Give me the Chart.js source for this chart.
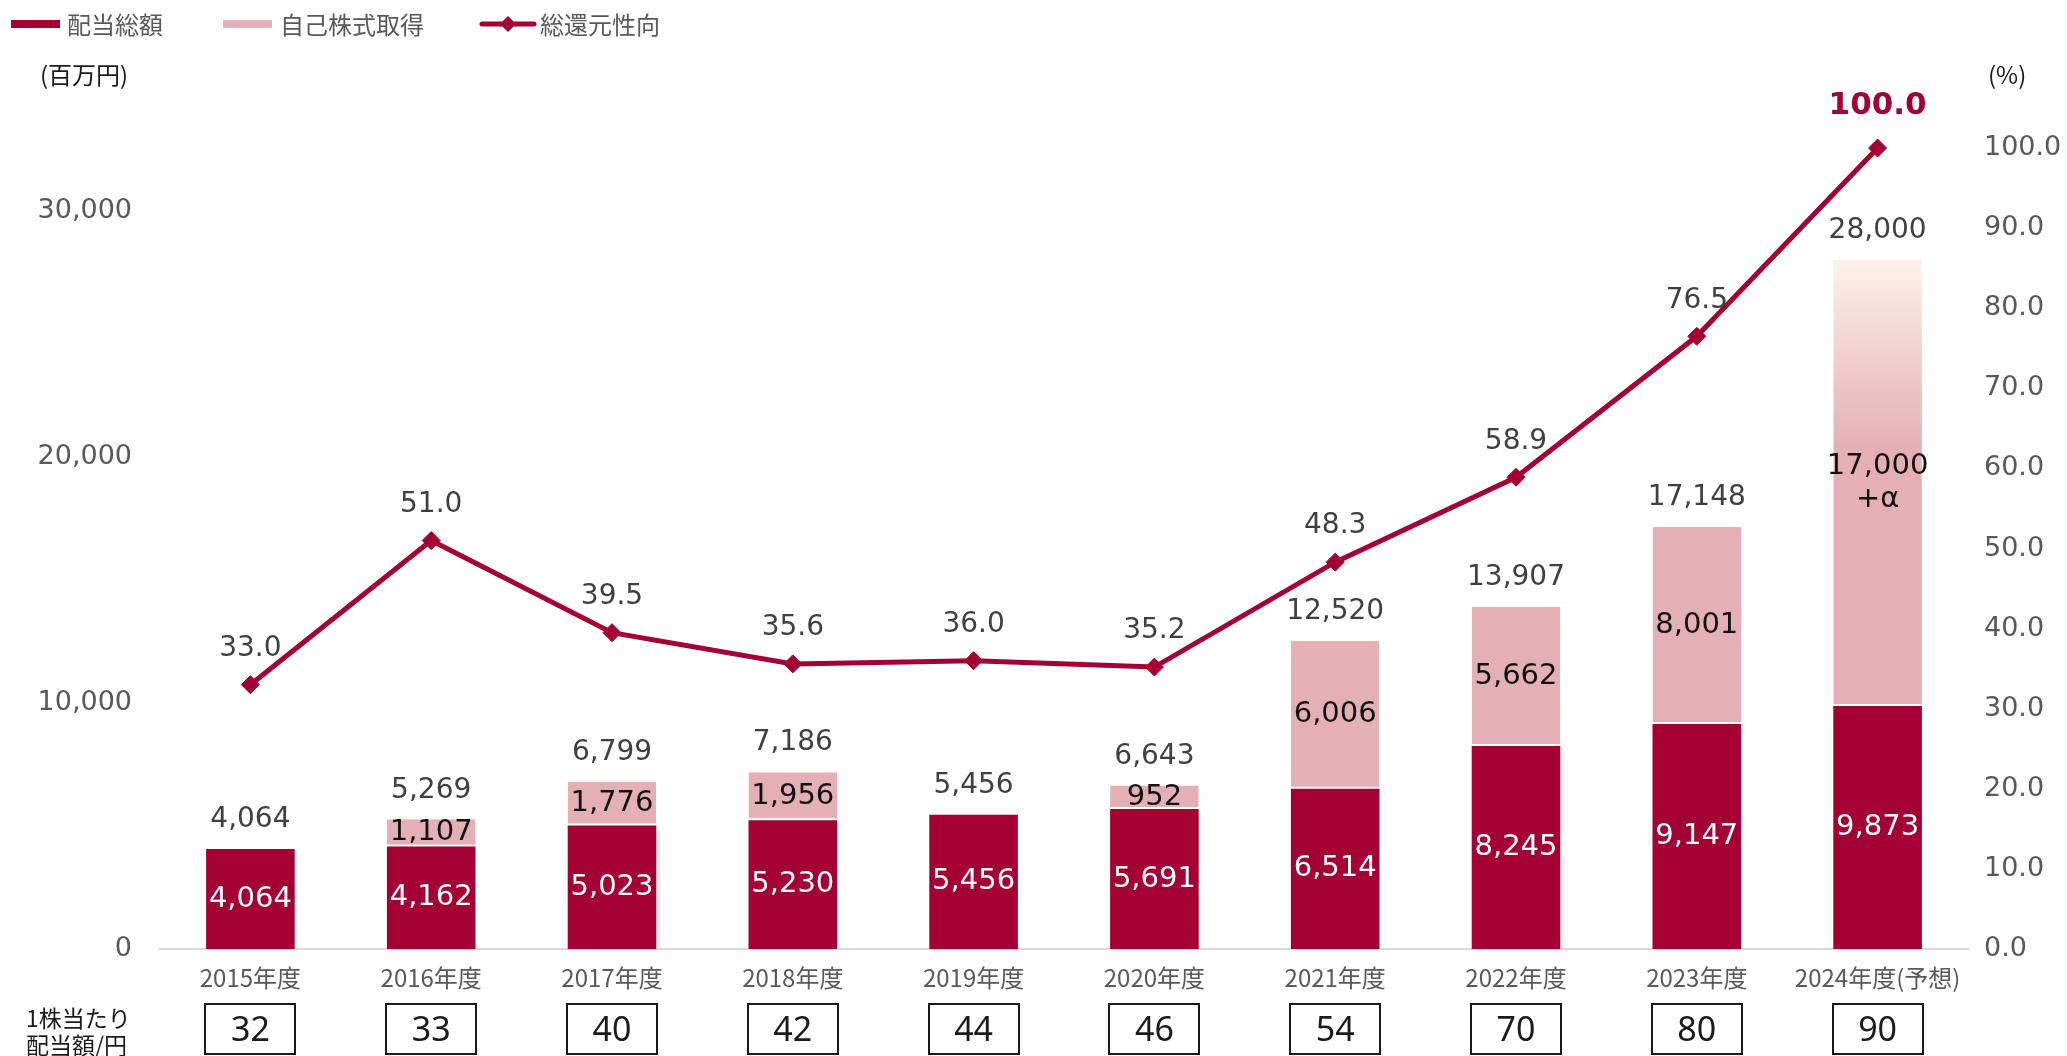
<!DOCTYPE html>
<html lang="ja">
<head>
<meta charset="utf-8">
<title>配当総額・自己株式取得・総還元性向</title>
<script src="https://cdn.jsdelivr.net/npm/chart.js@4.4.1/dist/chart.umd.min.js"></script>
<style>
  html, body { margin: 0; padding: 0; background: #fff; }
  #wrap { width: 2067px; height: 1056px; }
</style>
</head>
<body>
<div id="wrap"><canvas id="payout" width="2067" height="1056"></canvas></div>
<script>
// 年度
const years = ['2015年度', '2016年度', '2017年度', '2018年度', '2019年度',
               '2020年度', '2021年度', '2022年度', '2023年度', '2024年度(予想)'];
// 配当総額（百万円）
const dividends = [4064, 4162, 5023, 5230, 5456, 5691, 6514, 8245, 9147, 9873];
// 自己株式取得（百万円） 2024年度は合計28,000になるように
const buybacks = [0, 1107, 1776, 1956, 0, 952, 6006, 5662, 8001, 18127];
// 自己株式取得のラベル差し替え
const buybackNotes = [null, null, null, null, null, null, null, null, null, ['17,000', '+α']];
// 総還元性向（%）
const payoutRatio = [33.0, 51.0, 39.5, 35.6, 36.0, 35.2, 48.3, 58.9, 76.5, 100.0];
// 1株当たり配当額（円）
const perShare = [32, 33, 40, 42, 44, 46, 54, 70, 80, 90];

const leftTicks = [0, 10000, 20000, 30000];
const rightTicks = [0, 10, 20, 30, 40, 50, 60, 70, 80, 90, 100];

const RED = '#a50034';
const PINK = '#e4b0b6';
const NUM_FONT = '"DejaVu Sans", sans-serif';
const JP_FONT = '"Noto Sans CJK JP", "Noto Sans", sans-serif';

const fmt = v => v.toLocaleString('en-US');

// 2024年度の自己株式取得は上部がグラデーション
function buybackColor(ctx) {
    const i = ctx.dataIndex;
    if (i !== buybacks.length - 1) return PINK;
    const chart = ctx.chart;
    if (!chart.chartArea) return PINK;
    const y = chart.scales.y;
    const top = y.getPixelForValue(dividends[i] + buybacks[i]);
    const bottom = y.getPixelForValue(dividends[i]);
    const g = chart.ctx.createLinearGradient(0, top, 0, bottom);
    g.addColorStop(0, '#fdf2ea');
    g.addColorStop(0.42, PINK);
    g.addColorStop(1, PINK);
    return g;
}

const valueLabels = {
    id: 'valueLabels',
    afterDatasetsDraw(chart) {
        const ctx = chart.ctx;
        const divMeta = chart.getDatasetMeta(0);
        const buyMeta = chart.getDatasetMeta(1);
        const lineMeta = chart.getDatasetMeta(2);
        ctx.save();
        ctx.textAlign = 'center';
        ctx.textBaseline = 'middle';

        divMeta.data.forEach((bar, i) => {
            ctx.font = '29px ' + NUM_FONT;
            ctx.fillStyle = '#ffffff';
            ctx.fillText(fmt(dividends[i]), bar.x, (bar.y + bar.base) / 2);

            const pink = buyMeta.data[i];
            if (buybacks[i] > 0) {
                ctx.fillStyle = '#111111';
                const mid = (pink.y + pink.base) / 2;
                const lines = buybackNotes[i] || [fmt(buybacks[i])];
                lines.forEach((t, k) => {
                    ctx.fillText(t, pink.x, mid + (k - (lines.length - 1) / 2) * 33);
                });
            }

            const top = buybacks[i] > 0 ? pink.y : bar.y;
            ctx.font = '28px ' + NUM_FONT;
            ctx.fillStyle = '#404040';
            ctx.fillText(fmt(dividends[i] + buybacks[i]), bar.x, top - 29);
        });

        lineMeta.data.forEach((pt, i) => {
            const last = i === payoutRatio.length - 1;
            if (last) {
                ctx.font = 'bold 31px ' + NUM_FONT;
                ctx.fillStyle = RED;
                ctx.fillText(payoutRatio[i].toFixed(1), pt.x, pt.y - 42);
            } else {
                ctx.font = '28px ' + NUM_FONT;
                ctx.fillStyle = '#404040';
                ctx.fillText(payoutRatio[i].toFixed(1), pt.x, pt.y - 36);
            }
        });
        ctx.restore();
    },
    afterDraw(chart) {
        const ctx = chart.ctx;
        ctx.save();

        // 凡例
        ctx.textBaseline = 'middle';
        ctx.textAlign = 'left';
        ctx.font = '24px ' + JP_FONT;
        ctx.fillStyle = RED;
        ctx.fillRect(11, 20, 49, 8);
        ctx.fillStyle = PINK;
        ctx.fillRect(223, 20, 49, 8);
        ctx.strokeStyle = RED;
        ctx.lineWidth = 5;
        ctx.lineCap = 'round';
        ctx.beginPath();
        ctx.moveTo(482, 24);
        ctx.lineTo(534, 24);
        ctx.stroke();
        ctx.fillStyle = RED;
        ctx.beginPath();
        ctx.moveTo(508, 16); ctx.lineTo(516, 24); ctx.lineTo(508, 32); ctx.lineTo(500, 24);
        ctx.closePath();
        ctx.fill();
        ctx.fillStyle = '#595959';
        ctx.fillText('配当総額', 67, 25);
        ctx.fillText('自己株式取得', 280, 25);
        ctx.fillText('総還元性向', 540, 25);

        // 単位
        ctx.fillStyle = '#1a1a1a';
        ctx.fillText('(百万円)', 40, 75);
        ctx.fillText('(%)', 1988, 75);

        // 1株当たり配当額
        ctx.font = '23px ' + JP_FONT;
        ctx.fillText('1株当たり', 26, 1018);
        ctx.fillText('配当額/円', 26, 1045);

        const x = chart.scales.x;
        ctx.strokeStyle = '#1a1a1a';
        ctx.lineWidth = 2;
        ctx.textAlign = 'center';
        ctx.font = '34px "Noto Sans", sans-serif';
        perShare.forEach((v, i) => {
            const cx = x.getPixelForValue(i);
            ctx.strokeRect(Math.round(cx) - 45, 1004, 90, 50);
            ctx.fillText(String(v), cx, 1031);
        });
        ctx.restore();
    }
};

new Chart(document.getElementById('payout'), {
    type: 'bar',
    data: {
        labels: years,
        datasets: [
            {
                label: '配当総額',
                data: dividends,
                backgroundColor: RED,
                borderWidth: 0,
                order: 1,
                yAxisID: 'y'
            },
            {
                label: '自己株式取得',
                data: buybacks,
                backgroundColor: buybackColor,
                borderColor: '#ffffff',
                borderWidth: {top: 0, left: 0, right: 0, bottom: 2},
                borderSkipped: false,
                order: 2,
                yAxisID: 'y'
            },
            {
                type: 'line',
                label: '総還元性向',
                data: payoutRatio,
                borderColor: RED,
                backgroundColor: RED,
                borderWidth: 5,
                pointStyle: 'rectRot',
                pointRadius: 9,
                pointBackgroundColor: RED,
                pointBorderColor: RED,
                pointBorderWidth: 1,
                tension: 0,
                order: 0,
                yAxisID: 'y1'
            }
        ]
    },
    options: {
        responsive: false,
        animation: false,
        layout: {padding: {top: 68, left: 0, right: 0, bottom: 0}},
        categoryPercentage: 1,
        barPercentage: 0.49,
        plugins: {
            legend: {display: false},
            tooltip: {enabled: false}
        },
        scales: {
            x: {
                stacked: true,
                grid: {display: false, drawTicks: false},
                border: {display: true, color: '#d9d9d9', width: 2},
                ticks: {
                    color: '#595959',
                    font: {family: JP_FONT, size: 24},
                    padding: 14,
                    maxRotation: 0,
                    autoSkip: false
                },
                afterFit: s => { s.height = 107; }
            },
            y: {
                stacked: true,
                position: 'left',
                min: 0,
                max: 35800,
                grid: {display: false, drawTicks: false},
                border: {display: false},
                ticks: {
                    color: '#595959',
                    font: {family: NUM_FONT, size: 27},
                    padding: 28,
                    callback: v => fmt(v)
                },
                afterBuildTicks: s => { s.ticks = leftTicks.map(v => ({value: v})); },
                afterFit: s => { s.width = 160; }
            },
            y1: {
                position: 'right',
                min: 0,
                max: 110,
                grid: {display: false, drawTicks: false},
                border: {display: false},
                ticks: {
                    color: '#595959',
                    font: {family: NUM_FONT, size: 27},
                    padding: 16,
                    callback: v => Number(v).toFixed(1)
                },
                afterBuildTicks: s => { s.ticks = rightTicks.map(v => ({value: v})); },
                afterFit: s => { s.width = 99; }
            }
        }
    },
    plugins: [valueLabels]
});
</script>
</body>
</html>
